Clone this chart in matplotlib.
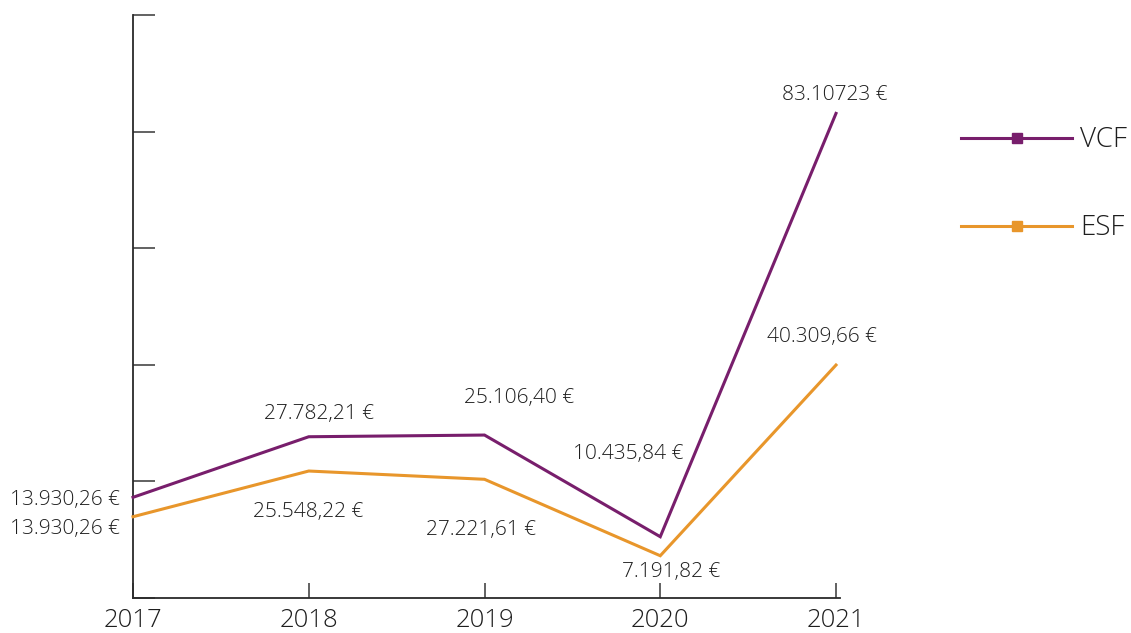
import matplotlib
matplotlib.use("Agg")
import matplotlib.pyplot as plt
from matplotlib.lines import Line2D

plt.rcParams['font.family'] = ['Open Sans', 'DejaVu Sans']

years = [2017, 2018, 2019, 2020, 2021]
vcf_values = [17270, 27660, 27950, 10510, 83120]
esf_values = [13940, 21780, 20360, 7250, 39960]
vcf_labels = ["13.930,26 €", "27.782,21 €", "25.106,40 €", "10.435,84 €", "83.10723 €"]
esf_labels = ["13.930,26 €", "25.548,22 €", "27.221,61 €", "7.191,82 €", "40.309,66 €"]
series_names = ["VCF", "ESF"]

VCF_COLOR = "#781e6c"
ESF_COLOR = "#e8962b"
TEXT_COLOR = "#1e1e1e"
AXIS_COLOR = "#2a2a2a"

W, H, DPI = 1131, 633, 100
fig = plt.figure(figsize=(W / DPI, H / DPI), dpi=DPI)
ax = fig.add_axes([133 / W, 1 - 598 / H, 707 / W, (598 - 15) / H])

ax.plot(years, vcf_values, color=VCF_COLOR, lw=2.2, solid_joinstyle='miter', clip_on=False, zorder=3)
ax.plot(years, esf_values, color=ESF_COLOR, lw=2.2, solid_joinstyle='miter', clip_on=False, zorder=3)

ax.set_xlim(2017, 2017 + 4 * 707 / 703)
ax.set_ylim(0, 100000)
ax.set_xticks(years)
ax.set_xticklabels([str(y) for y in years])
ax.set_yticks([0, 20000, 40000, 60000, 80000, 100000])
ax.set_yticklabels([])

for s in ['top', 'right']:
    ax.spines[s].set_visible(False)
for s in ['left', 'bottom']:
    ax.spines[s].set_color(AXIS_COLOR)
    ax.spines[s].set_linewidth(1.3)

ax.tick_params(axis='y', direction='in', length=16, width=1.3, color='#555555')
ax.tick_params(axis='x', direction='in', length=11, width=1.3, color='#555555',
               labelsize=18.5, labelcolor=TEXT_COLOR, pad=7)
for t in ax.get_xticklabels():
    t.set_fontweight('light')

# label offsets in pixels (dx right, dy up), and alignments
vcf_off = [(-13, -3, 'right'), (10, 23, 'center'), (35, 37, 'center'), (-32, 83, 'center'), (-1, 18, 'center')]
esf_off = [(-13, -12, 'right'), (-1, -41, 'center'), (-3, -51, 'center'), (11, -16, 'center'), (-14, 28, 'center')]

px2pt = 72 / DPI
for vals, labels, offs in [(vcf_values, vcf_labels, vcf_off), (esf_values, esf_labels, esf_off)]:
    for x, y, lab, (dx, dy, ha) in zip(years, vals, labels, offs):
        ax.annotate(lab, (x, y), xytext=(dx * px2pt, dy * px2pt), textcoords='offset points',
                    ha=ha, va='center', fontsize=15, color=TEXT_COLOR, fontweight='light',
                    annotation_clip=False)

# legend drawn manually
for name, color, yp in [(series_names[0], VCF_COLOR, 138), (series_names[1], ESF_COLOR, 226)]:
    yf = 1 - yp / H
    fig.add_artist(Line2D([961 / W, 1072 / W], [yf, yf], color=color, lw=2.2,
                          transform=fig.transFigure))
    fig.add_artist(Line2D([1017 / W], [yf], color=color, marker='s', markersize=7,
                          transform=fig.transFigure))
    fig.text(1080 / W, yf - 2 / H, name, ha='left', va='center', fontsize=20, color=TEXT_COLOR,
             fontweight='light')

fig.savefig("out.png", dpi=DPI)
